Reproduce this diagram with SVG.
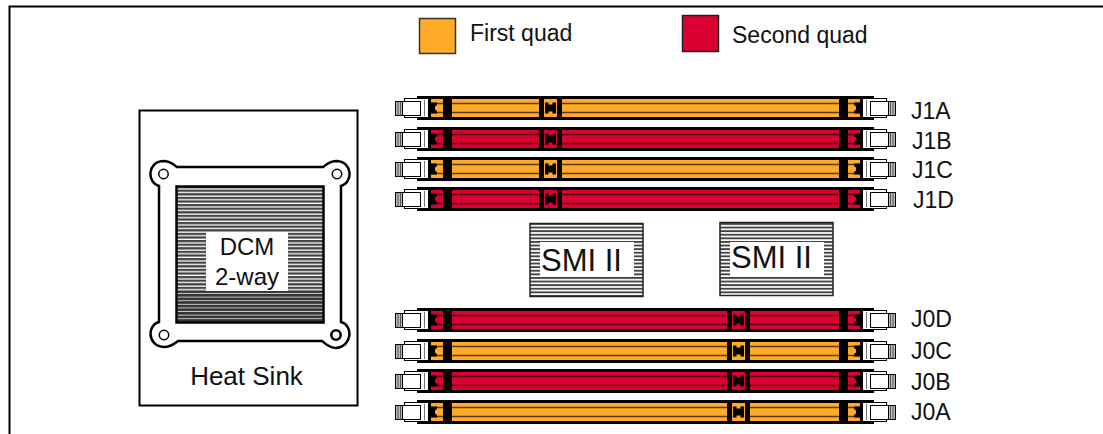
<svg xmlns="http://www.w3.org/2000/svg" width="1103" height="434" viewBox="0 0 1103 434">
<style>
text{font-family:"Liberation Sans",Arial,sans-serif;fill:#111;font-size:23px}
.q1{color:#FFAA28}.q2{color:#DC0032}
.ln{fill:none;stroke:#000;stroke-width:2.5}
.big{font-size:31px}
.mid{font-size:24px}
.hs{font-size:26px}
</style>
<defs>
<pattern id="fin" patternUnits="userSpaceOnUse" width="10" height="3.6" y="186"><rect width="10" height="3.6" fill="#fff"/><rect width="10" height="2.3" fill="#444"/></pattern>
<pattern id="fin2" patternUnits="userSpaceOnUse" width="10" height="3.6" y="186"><rect width="10" height="3.6" fill="#ccc"/><rect width="10" height="2.6" fill="#333"/></pattern>
<pattern id="smi" patternUnits="userSpaceOnUse" width="10" height="3.6" y="223"><rect width="10" height="3.6" fill="#fff"/><rect width="10" height="1.9" fill="#444"/></pattern>
<g id="end">
<rect x="417" y="-12" width="14" height="24" fill="#000"/>
<rect x="395.500" y="-6.500" width="9" height="14" fill="#bbb" stroke="#000"/>
<path d="M398 -6V7.500M400.500 -6V7.500" stroke="#555" fill="none"/>
<rect x="404.500" y="-9.500" width="24" height="19" fill="#fff" stroke="#000"/>
<rect x="402.500" y="-6.500" width="18" height="14" fill="#fff" stroke="#000"/>
<rect x="424" y="-8" width="1" height="16" fill="#777"/>
</g>
<g id="slot">
<rect x="429" y="-12" width="433" height="24" fill="#000"/>
<rect x="429" y="-9" width="433" height="18" fill="currentColor"/>
<path d="M429 -4.500H862M429 4.500H862" stroke="#000" stroke-opacity=".65" stroke-width="1.500" fill="none"/>
<path d="M429 -5.500H437V-3L435 -1.500V1.500L437 3V5.500H429Z" fill="#000"/>
<path d="M862 -5.500H854V-3L856 -1.500V1.500L854 3V5.500H862Z" fill="#000"/>
<rect x="443" y="-12" width="9" height="24" fill="#000"/>
<rect x="839" y="-12" width="9" height="24" fill="#000"/>
<use href="#end"/>
<use href="#end" transform="matrix(-1 0 0 1 1291 0)"/>
</g>
<g id="latch">
<rect x="-11.500" y="-12" width="23" height="24" fill="#000"/>
<rect x="-6.500" y="-9" width="13" height="18" fill="currentColor"/>
<path d="M-5.500 -5.500H-2V-3.500H2V-5.500H5.500V5.500H2V3.500H-2V5.500H-5.500Z" fill="#000"/>
</g>
</defs>
<rect width="1103" height="434" fill="#fff"/>
<path d="M9.500 434V6.500H1103" fill="none" stroke="#000" stroke-width="2"/>

<g id="legend-first"><rect x="419.500" y="18.500" width="36" height="35" fill="#FFAA28" stroke="#333" stroke-width="1.500"/><text x="470" y="41">First quad</text></g>
<g id="legend-second"><rect x="682.500" y="15.500" width="36" height="36" fill="#DC0032" stroke="#222" stroke-width="1.500"/><text x="732" y="43">Second quad</text></g>

<g id="heat-sink">
<rect x="139.500" y="110.500" width="218" height="295" fill="none" stroke="#000" stroke-width="2"/>
<path class="ln" d="M159 186C147 183 147 162 163 161C171 161 174 165 177 167H323C326 165 329 161 337 161C353 162 353 183 341 186V322C353 325 353 346 336 348C329 348 326 344 322 341H178C174 344 171 347 164 347C147 346 147 325 159 322Z"/>
<circle cx="163.500" cy="174" r="4.700" fill="#fff" stroke="#000" stroke-width="1.500"/>
<circle cx="337" cy="174" r="4.700" fill="#fff" stroke="#000" stroke-width="1.500"/>
<circle cx="164" cy="335" r="4.700" fill="#fff" stroke="#000" stroke-width="1.500"/>
<circle cx="336" cy="335" r="4.700" fill="#fff" stroke="#000" stroke-width="2.500"/>
<text class="hs" x="246.500" y="385" text-anchor="middle">Heat Sink</text>
</g>
<g id="dcm">
<rect x="176.500" y="186.500" width="147" height="136" fill="url(#fin)"/>
<rect x="178" y="291" width="144" height="31" fill="url(#fin2)"/>
<rect x="176.500" y="186.500" width="147" height="136" fill="none" stroke="#000" stroke-width="2.500"/>
<rect x="206" y="232" width="82" height="59" fill="#fff"/>
<text class="mid" x="247" y="255" text-anchor="middle">DCM</text>
<text class="mid" x="247" y="285" text-anchor="middle">2-way</text>
</g>
<g id="smi-left">
<rect x="530" y="223.500" width="113" height="73" fill="url(#smi)" stroke="#222" stroke-width="1.500"/>
<rect x="540" y="242" width="94" height="35" fill="#fff"/>
<text class="big" x="541" y="271">SMI II</text>
</g>
<g id="smi-right">
<rect x="720" y="222.500" width="113" height="73" fill="url(#smi)" stroke="#222" stroke-width="1.500"/>
<rect x="730" y="242" width="94" height="35" fill="#fff"/>
<text class="big" x="731" y="268">SMI II</text>
</g>

<g id="J1A" class="q1"><use href="#slot" y="108"/><use href="#latch" x="550.500" y="108"/><text x="911" y="119">J1A</text></g>
<g id="J1B" class="q2"><use href="#slot" y="139"/><use href="#latch" x="550.500" y="139"/><text x="912" y="149">J1B</text></g>
<g id="J1C" class="q1"><use href="#slot" y="169"/><use href="#latch" x="550.500" y="169"/><text x="912" y="178">J1C</text></g>
<g id="J1D" class="q2"><use href="#slot" y="199"/><use href="#latch" x="550.500" y="199"/><text x="913" y="208">J1D</text></g>
<g id="J0D" class="q2"><use href="#slot" y="320"/><use href="#latch" x="738.500" y="320"/><text x="911" y="327">J0D</text></g>
<g id="J0C" class="q1"><use href="#slot" y="351"/><use href="#latch" x="738.500" y="351"/><text x="911" y="359">J0C</text></g>
<g id="J0B" class="q2"><use href="#slot" y="381"/><use href="#latch" x="738.500" y="381"/><text x="911" y="390">J0B</text></g>
<g id="J0A" class="q1"><use href="#slot" y="412"/><use href="#latch" x="738.500" y="412"/><text x="911" y="420">J0A</text></g>
</svg>
